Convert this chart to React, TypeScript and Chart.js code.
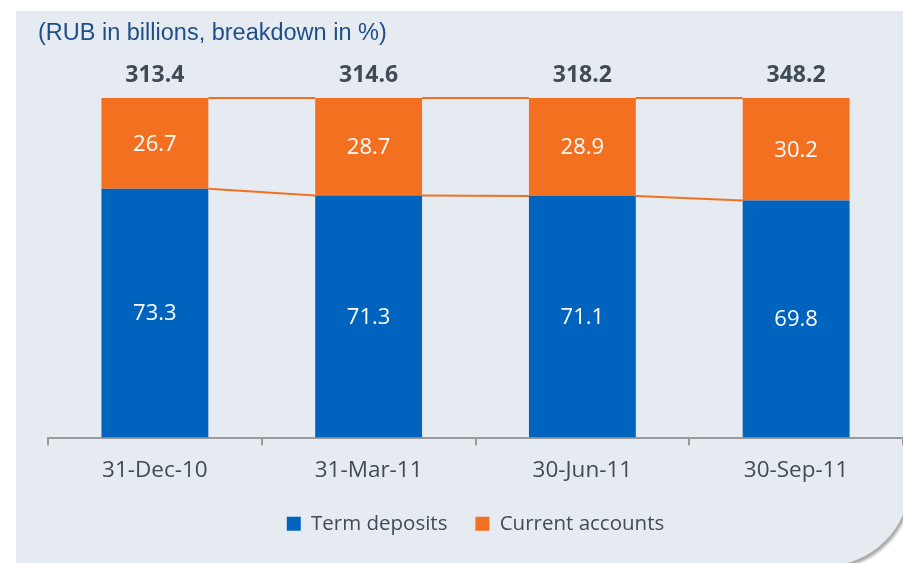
import React, { useEffect, useRef } from "react";
import { Chart, registerables } from "chart.js";

Chart.register(...registerables);

const categories = ["31-Dec-10", "31-Mar-11", "30-Jun-11", "30-Sep-11"];
const totals = ["313.4", "314.6", "318.2", "348.2"];
const termDeposits = [73.3, 71.3, 71.1, 69.8];
const currentAccounts = [26.7, 28.7, 28.9, 30.2];
const titleText = "(RUB in billions, breakdown in %)";

const BLUE = "#0063be";
const ORANGE = "#f37021";
const GRAY_TEXT = "#404b55";
const FONT = "'Open Sans'";
const TITLE_FONT = "'Liberation Sans'";

const overlayPlugin = {
  id: "overlay",
  afterDatasetsDraw(chart: any) {
    const ctx = chart.ctx;
    const m0 = chart.getDatasetMeta(0);
    const m1 = chart.getDatasetMeta(1);
    ctx.save();
    ctx.strokeStyle = ORANGE;
    ctx.lineWidth = 2;
    for (let i = 0; i < m0.data.length - 1; i++) {
      const a0 = m0.data[i], b0 = m0.data[i + 1];
      const a1 = m1.data[i], b1 = m1.data[i + 1];
      ctx.beginPath();
      ctx.moveTo(a1.x + a1.width / 2, a1.y);
      ctx.lineTo(b1.x - b1.width / 2, b1.y);
      ctx.stroke();
      ctx.beginPath();
      ctx.moveTo(a0.x + a0.width / 2, a0.y);
      ctx.lineTo(b0.x - b0.width / 2, b0.y);
      ctx.stroke();
    }
    ctx.textAlign = "center";
    ctx.textBaseline = "middle";
    ctx.fillStyle = "#ffffff";
    ctx.font = `22px ${FONT}`;
    [m0, m1].forEach((meta: any, di: number) => {
      const vals = di === 0 ? termDeposits : currentAccounts;
      meta.data.forEach((bar: any, i: number) => {
        const cy = (bar.y + bar.base) / 2;
        ctx.fillText(vals[i].toFixed(1), bar.x, cy + 1);
      });
    });
    ctx.fillStyle = GRAY_TEXT;
    ctx.font = `bold 23px ${FONT}`;
    m1.data.forEach((bar: any, i: number) => {
      ctx.fillText(totals[i], bar.x, bar.y - 23);
    });
    ctx.textAlign = "left";
    ctx.fillStyle = "#1d4e89";
    ctx.font = `23.5px ${TITLE_FONT}`;
    ctx.fillText(titleText, 38, 34);
    ctx.restore();
  },
};

export default function App() {
  const ref = useRef<HTMLCanvasElement | null>(null);
  useEffect(() => {
    let chart: any = null;
    let cancelled = false;
    const fontsReady = Promise.all([
      document.fonts.load(`21px ${FONT}`),
      document.fonts.load(`bold 22px ${FONT}`),
      document.fonts.load(`21px ${TITLE_FONT}`),
    ]).catch(() => null);
    fontsReady.then(() => {
      if (cancelled || !ref.current) return;
      chart = new Chart(ref.current, {
        type: "bar",
        data: {
          labels: categories,
          datasets: [
            { label: "Term deposits", data: termDeposits, backgroundColor: BLUE, barPercentage: 0.5, categoryPercentage: 1 },
            { label: "Current accounts", data: currentAccounts, backgroundColor: ORANGE, barPercentage: 0.5, categoryPercentage: 1 },
          ],
        },
        options: {
          animation: false,
          responsive: false,
          maintainAspectRatio: false,
          layout: { padding: { left: 48, right: 0, top: 98, bottom: 19 } },
          plugins: {
            legend: {
              position: "bottom",
              labels: {
                boxWidth: 14,
                boxHeight: 14,
                padding: 28,
                color: GRAY_TEXT,
                font: { family: FONT, size: 20.5 },
              },
            },
            tooltip: { enabled: false },
          },
          scales: {
            x: {
              stacked: true,
              grid: {
                display: true,
                drawOnChartArea: false,
                drawTicks: true,
                tickLength: 8,
                color: "#9a9a9a",
                lineWidth: 2,
                offset: true,
              },
              border: { display: true, color: "#9a9a9a", width: 2 },
              ticks: { color: GRAY_TEXT, font: { family: FONT, size: 22.5 }, padding: 12 },
              afterFit(scale: any) {
                scale.height = 48;
              },
            },
            y: { stacked: true, display: false, min: 0, max: 100 },
          },
        },
        plugins: [overlayPlugin],
      });
    });
    return () => {
      cancelled = true;
      if (chart) chart.destroy();
    };
  }, []);
  return (
    <div style={{ position: "fixed", left: 0, top: 0, width: 903, height: 563, overflow: "hidden", background: "#ffffff" }}>
      <div
        style={{
          position: "absolute",
          left: 16,
          top: 11,
          width: 894,
          height: 555,
          background: "#e6ebf2",
          borderBottomRightRadius: 85,
          boxShadow: "2px 3px 3px rgba(0,0,0,0.35)",
        }}
      />
      <canvas ref={ref} width={903} height={563} style={{ position: "absolute", left: 0, top: 0, width: 903, height: 563 }} />
    </div>
  );
}
